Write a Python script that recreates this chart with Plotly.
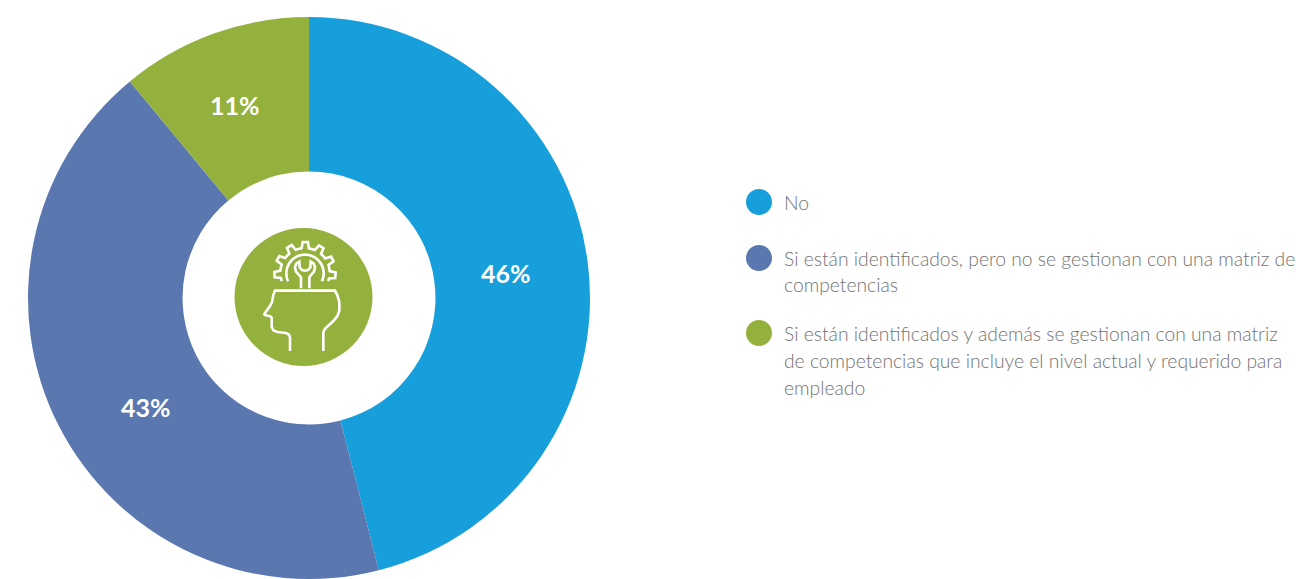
import math
import plotly.graph_objects as go

W, H = 1296, 579

# Survey answers and their shares
categories = [
    "No",
    "Si están identificados, pero no se gestionan con una matriz de competencias",
    "Si están identificados y además se gestionan con una matriz de competencias que incluye el nivel actual y requerido para empleado",
]
shares = [46, 43, 11]
colors = ["#169FDB", "#5A77B0", "#94B13D"]

# Legend text, broken into the lines it is set on
legend_lines = [
    ["No"],
    ["Si están identificados, pero no se gestionan con una matriz de", "competencias"],
    ["Si están identificados y además se gestionan con una matriz",
     "de competencias que incluye el nivel actual y requerido para",
     "empleado"],
]
legend_line_y = [[202], [258, 284], [333, 360, 387]]
legend_dot_y = [202, 258, 333]

# Where each share label sits on its slice
share_label_xy = [(506, 273), (146, 407), (235, 105)]

FONT = "Lato"
TEXT_GREY = "#737373"


def px(x):
    return x / W


def py(y):
    return 1 - y / H


def svg_path(points):
    """Polyline through pixel points, as a paper-coordinate SVG path."""
    return "M" + " L".join(f"{px(x):.5f},{py(y):.5f}" for x, y in points)


def icon_pt(zx, zy):
    """Icon drawing grid (three units per pixel) to pixel position."""
    return 220 + zx / 3, 220 + zy / 3


def gear_outline(cx, cy, r_out, r_in, start, end, teeth):
    pts = []
    step = (end - start) / teeth
    for i in range(teeth):
        a = start + i * step
        for frac, r in ((0.0, r_in), (0.25, r_in), (0.36, r_out), (0.68, r_out), (0.79, r_in)):
            ang = math.radians(a + frac * step)
            pts.append((cx + r * math.cos(ang), cy - r * math.sin(ang)))
    ang = math.radians(end)
    pts.append((cx + r_in * math.cos(ang), cy - r_in * math.sin(ang)))
    return pts


def arc(cx, cy, r, start, end, n=40):
    return [(cx + r * math.cos(math.radians(start + (end - start) * i / n)),
             cy - r * math.sin(math.radians(start + (end - start) * i / n)))
            for i in range(n + 1)]


head = [(210, 393), (210, 352), (207, 344), (198, 339), (172, 336), (160, 331), (155, 320),
        (155, 293), (151, 289), (134, 285), (133, 282), (150, 258), (156, 246), (160, 225),
        (165, 212), (345, 212), (352, 226), (358, 246), (358, 272), (352, 288), (340, 303),
        (315, 326), (310, 336), (310, 393)]
gear = gear_outline(255, 158, 92, 74, 200, -20, 7)
ring = arc(255, 160, 56, 205, -25)
wrench = [(243, 205), (243, 172), (237, 165), (228, 155), (225, 142), (229, 131), (238, 125),
          (239, 142), (246, 150), (255, 152), (264, 150), (271, 142), (272, 125), (281, 131),
          (285, 142), (282, 155), (273, 165), (268, 172), (268, 205)]

WHITE_LINE = dict(color="#FFFFFF", width=2.6)
icon_shapes = [
    dict(type="circle", xref="paper", yref="paper",
         x0=px(234.5), x1=px(372.5), y0=py(366), y1=py(228),
         fillcolor=colors[2], line=dict(width=0), layer="above"),
]
for outline in (head, gear, ring, wrench):
    icon_shapes.append(dict(
        type="path", xref="paper", yref="paper",
        path=svg_path([icon_pt(*p) for p in outline]),
        line=WHITE_LINE, layer="above",
    ))

legend_dots = [
    dict(type="circle", xref="paper", yref="paper",
         x0=px(746), x1=px(772), y0=py(y + 13), y1=py(y - 13),
         fillcolor=c, line=dict(width=0))
    for y, c in zip(legend_dot_y, colors)
]

legend_text = [
    dict(text=line, xref="paper", yref="paper", x=px(782), y=py(y),
         xanchor="left", yanchor="middle", showarrow=False,
         font=dict(family=FONT, size=19.3, color=TEXT_GREY, weight=300))
    for lines, ys in zip(legend_lines, legend_line_y)
    for line, y in zip(lines, ys)
]

share_labels = [
    dict(text=f"{share}%", xref="paper", yref="paper", x=px(x), y=py(y),
         xanchor="center", yanchor="middle", showarrow=False,
         font=dict(family=FONT, size=25, color="#FFFFFF", weight=700))
    for share, (x, y) in zip(shares, share_label_xy)
]

fig = go.Figure(go.Pie(
    labels=categories,
    values=shares,
    marker=dict(colors=colors, line=dict(width=0)),
    hole=0.45,
    sort=False,
    direction="clockwise",
    rotation=0,
    textinfo="none",
    showlegend=False,
    domain=dict(x=[px(28), px(590)], y=[0, py(17)]),
))

fig.update_layout(
    width=W,
    height=H,
    margin=dict(l=0, r=0, t=0, b=0),
    paper_bgcolor="#FFFFFF",
    shapes=icon_shapes + legend_dots,
    annotations=legend_text + share_labels,
)

fig.write_html("out.html")
